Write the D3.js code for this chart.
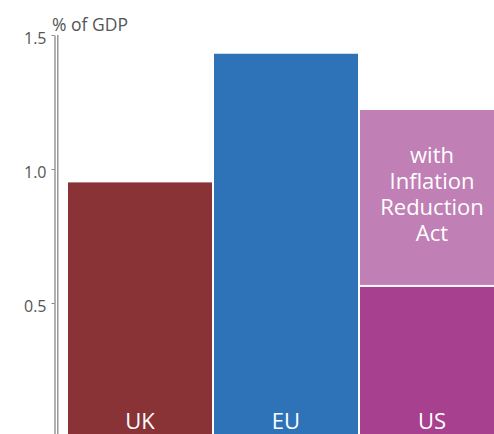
<!DOCTYPE html>
<html>
<head>
<meta charset="utf-8">
<script src="https://cdn.jsdelivr.net/npm/d3@7"></script>
<style>
  body { margin: 0; background: #fff; }
  svg { display: block; font-family: "Open Sans", sans-serif; }
</style>
</head>
<body>
<div id="chart"></div>
<script>
// data
const regions = ["UK", "EU", "US"];
const baseValues = [0.95, 1.43, 0.56];
const iraExtra = [0, 0, 0.66];          // US with Inflation Reduction Act -> 1.22
const baseColors = ["#8a3336", "#2e72b8", "#a6408f"];
const iraColor = "#c07fb5";
const iraLabel = ["with", "Inflation", "Reduction", "Act"];
const yTicks = [0, 0.5, 1.0, 1.5];

const width = 494, height = 434;
const margin = {top: 35, bottom: -3, left: 68};

const svg = d3.select("#chart").append("svg")
    .attr("width", width)
    .attr("height", height);

const x = d3.scaleBand()
    .domain(regions)
    .range([margin.left, margin.left + 436])
    .paddingInner(2 / 146)
    .paddingOuter(0);

const y = d3.scaleLinear()
    .domain([0, 1.5])
    .range([height - margin.bottom, margin.top]);

// bars
const bars = regions.map((r, i) => ({
    region: r, base: baseValues[i], extra: iraExtra[i], color: baseColors[i]
}));

svg.selectAll(".bar")
    .data(bars)
  .join("rect")
    .attr("class", "bar")
    .attr("x", d => x(d.region))
    .attr("width", x.bandwidth())
    .attr("y", d => y(d.base))
    .attr("height", d => y(0) - y(d.base))
    .attr("fill", d => d.color);

svg.selectAll(".bar-extra")
    .data(bars.filter(d => d.extra > 0))
  .join("rect")
    .attr("class", "bar-extra")
    .attr("x", d => x(d.region))
    .attr("width", x.bandwidth())
    .attr("y", d => y(d.base + d.extra))
    .attr("height", d => y(d.base) - y(d.base + d.extra) - 2)
    .attr("fill", iraColor);

// labels inside bars
svg.selectAll(".bar-label")
    .data(bars)
  .join("text")
    .attr("class", "bar-label")
    .attr("x", d => x(d.region) + x.bandwidth() / 2)
    .attr("y", 429)
    .attr("text-anchor", "middle")
    .attr("fill", "#fff")
    .attr("font-size", 22)
    .text(d => d.region);

const us = bars[2];
const usTop = y(us.base + us.extra);
svg.append("text")
    .attr("x", x(us.region) + x.bandwidth() / 2)
    .attr("y", usTop + 52.5)
    .attr("text-anchor", "middle")
    .attr("fill", "#fff")
    .attr("font-size", 22)
  .selectAll("tspan")
    .data(iraLabel)
  .join("tspan")
    .attr("x", x(us.region) + x.bandwidth() / 2)
    .attr("dy", (d, i) => i === 0 ? 0 : 26)
    .text(d => d);

// y axis (double line)
const yAxis = d3.axisLeft(y)
    .tickValues(yTicks)
    .tickFormat(d3.format(".1f"))
    .tickSize(3)
    .tickSizeOuter(0)
    .tickPadding(5);

const axisG = svg.append("g")
    .attr("transform", "translate(54.5,0)")
    .call(yAxis);

axisG.select(".domain").attr("stroke", "#888").attr("stroke-width", 1.3);
axisG.selectAll(".tick line").attr("stroke", "#888");
axisG.selectAll(".tick text")
    .attr("fill", "#555")
    .attr("font-size", 16)
    .attr("dy", "0.5em")
    .attr("font-family", "Open Sans, sans-serif");

svg.append("line")
    .attr("x1", 57.8).attr("x2", 57.8)
    .attr("y1", y(1.5)).attr("y2", height)
    .attr("stroke", "#888")
    .attr("stroke-width", 1.3);

svg.append("text")
    .attr("x", 52)
    .attr("y", 31)
    .attr("fill", "#555")
    .attr("font-size", 17.5)
    .text("% of GDP");
</script>
</body>
</html>
